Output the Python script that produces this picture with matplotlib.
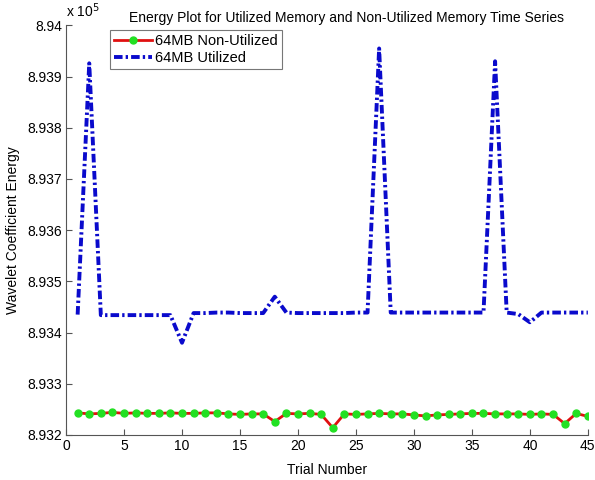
import matplotlib
matplotlib.use('Agg')
import matplotlib.pyplot as plt
from matplotlib.ticker import FuncFormatter
import numpy as np

plt.rcParams['font.family'] = ['Liberation Sans', 'DejaVu Sans']

trials = np.arange(1, 46)

non_utilized = [8.93243, 8.93241, 8.93242, 8.93244, 8.93242, 8.93243, 8.93242, 8.93242, 8.93243,
                8.93242, 8.93242, 8.93243, 8.93243, 8.93241, 8.93240, 8.93241, 8.93241, 8.93226,
                8.93242, 8.93241, 8.93242, 8.93240, 8.93214, 8.93241, 8.93240, 8.93241, 8.93242,
                8.93241, 8.93241, 8.93239, 8.93237, 8.93239, 8.93240, 8.93241, 8.93242, 8.93242,
                8.93241, 8.93241, 8.93241, 8.93240, 8.93241, 8.93240, 8.93222, 8.93242, 8.93236]
utilized = [8.93435, 8.93926, 8.93434, 8.93434, 8.93434, 8.93434, 8.93434, 8.93434, 8.93434,
            8.93380, 8.93438, 8.93438, 8.93439, 8.93439, 8.93438, 8.93438, 8.93438, 8.93470,
            8.93439, 8.93438, 8.93438, 8.93438, 8.93438, 8.93438, 8.93439, 8.93439, 8.93955,
            8.93439, 8.93439, 8.93439, 8.93439, 8.93439, 8.93439, 8.93439, 8.93439, 8.93439,
            8.93930, 8.93439, 8.93436, 8.93420, 8.93439, 8.93439, 8.93439, 8.93439, 8.93439]
# values above are in units of 1e5
scale = 1e5
non_utilized = np.array(non_utilized) * scale
utilized = np.array(utilized) * scale

fig = plt.figure(figsize=(5.95, 4.8), dpi=100)
ax = fig.add_axes([0.111, 0.094, 0.877, 0.853])

ax.plot(trials, non_utilized / scale, color='#e01010', lw=2, marker='o', ms=5,
        mfc='#22e022', mec='#22e022', label='64MB Non-Utilized')
ax.plot(trials, utilized / scale, color='#0a0acc', lw=2.8,
        linestyle=(0, (2.2, 0.8, 0.6, 0.8)), label='64MB Utilized')

ax.set_xlim(0, 45)
ax.set_ylim(8.932, 8.94)
ax.set_xticks(np.arange(0, 46, 5))
ax.set_yticks(np.arange(8.932, 8.9405, 0.001))
ax.yaxis.set_major_formatter(FuncFormatter(lambda v, p: '%g' % round(v, 3)))

for s in ['top', 'right']:
    ax.spines[s].set_visible(False)
for s in ['left', 'bottom']:
    ax.spines[s].set_color('#555555')
ax.tick_params(direction='in', length=4, color='#555555', labelsize=10, pad=3)

ax.set_xlabel('Trial Number', fontsize=10, labelpad=7)
ax.set_ylabel('Wavelet Coefficient Energy', fontsize=10, labelpad=5)

fig.text(0.583, 0.962, 'Energy Plot for Utilized Memory and Non-Utilized Memory Time Series',
         ha='center', va='center', fontsize=10)
fig.text(0.111, 0.958, r'x 10$^5$', ha='left', va='bottom', fontsize=10)

leg = ax.legend(loc='upper left', bbox_to_anchor=(0.084, 0.99), fontsize=10.5,
                frameon=True, fancybox=False, handlelength=2.6, borderpad=0.3,
                labelspacing=0.2, handletextpad=0.2, borderaxespad=0)
leg.get_frame().set_edgecolor('#555555')
leg.get_frame().set_linewidth(0.8)

fig.savefig('out.png', dpi=100)
